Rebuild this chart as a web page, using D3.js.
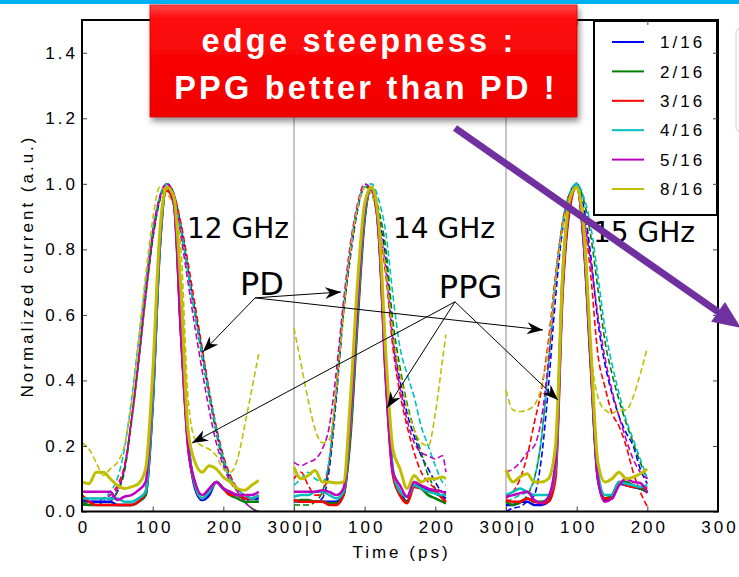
<!DOCTYPE html>
<html>
<head>
<meta charset="utf-8">
<script src="https://cdn.jsdelivr.net/npm/d3@7/dist/d3.min.js"></script>
<style>
  html, body { margin: 0; padding: 0; background: #ffffff; }
  svg { display: block; }
  .tick text { font-family: "Liberation Sans", Arial, sans-serif; font-size: 17px; letter-spacing: 3px; fill: #000; }
</style>
</head>
<body>
<svg id="chart" width="739" height="577"></svg>
<script>
// ---- series and labels ----
const seriesNames  = ["1/16", "2/16", "3/16", "4/16", "5/16", "8/16"];
const seriesColors = ["#0000ff", "#008000", "#ff0000", "#00bfbf", "#bf00bf", "#bfbf00"];
const panelLabels  = ["12 GHz", "14 GHz", "15 GHz"];
const xTickValues  = [0, 100, 200, 300, 400, 500, 600, 700, 800, 900];
const xTickLabels  = ["0", "100", "200", "300|0", "100", "200", "300|0", "100", "200", "300"];
const yTickValues  = [0, 0.2, 0.4, 0.6, 0.8, 1.0, 1.2, 1.4];

// ---- sample times (ps) for each clock rate ----
const time12 = [0,10,20,30,40,50,60,70,80,90,100,110,120,130,140,150,160,170,180,190,200,210,220,230,240,250];
const time14 = [0,10,20,30,40,50,60,70,80,90,100,110,120,130,140,150,160,170,180,190,200,210,215];
const time15 = [0,10,20,30,40,50,60,70,80,90,100,110,120,130,140,150,160,170,180,190,200];

// ---- PD (photodiode) normalized current, one row per series ----
const pd12 = [
  [0.02,0.02,0.02,0.03,0.04,0.06,0.13,0.28,0.46,0.66,0.83,0.95,1.0,0.97,0.87,0.74,0.61,0.49,0.36,0.25,0.16,0.1,0.07,0.04,0.03,0.03],
  [0.02,0.02,0.02,0.02,0.03,0.06,0.12,0.27,0.45,0.65,0.83,0.95,1.0,0.96,0.86,0.73,0.6,0.47,0.35,0.24,0.15,0.1,0.06,0.03,0.01,0.0],
  [0.04,0.04,0.04,0.04,0.05,0.08,0.14,0.28,0.46,0.66,0.84,0.96,1.0,0.97,0.88,0.76,0.63,0.5,0.37,0.26,0.17,0.11,0.07,0.05,0.04,0.04],
  [0.03,0.03,0.03,0.04,0.06,0.1,0.19,0.34,0.52,0.7,0.86,0.96,1.0,0.96,0.86,0.73,0.6,0.48,0.36,0.25,0.16,0.1,0.07,0.05,0.04,0.03],
  [0.03,0.03,0.03,0.04,0.05,0.07,0.13,0.28,0.47,0.67,0.85,0.96,1.0,0.96,0.84,0.7,0.56,0.43,0.31,0.21,0.14,0.09,0.06,0.03,0.01,0.0],
  [0.21,0.19,0.15,0.11,0.13,0.15,0.2,0.33,0.52,0.72,0.89,0.99,0.97,0.93,0.8,0.35,0.22,0.2,0.19,0.17,0.13,0.12,0.16,0.26,0.37,0.48]
];
const pd14 = [
  [0.03,0.03,0.03,0.03,0.04,0.13,0.35,0.6,0.78,0.92,0.99,0.99,0.9,0.77,0.54,0.4,0.3,0.23,0.17,0.13,0.09,0.06,0.06],
  [0.02,0.02,0.02,0.03,0.06,0.15,0.37,0.61,0.8,0.93,0.99,0.99,0.92,0.8,0.58,0.44,0.33,0.25,0.18,0.11,0.07,0.04,0.03],
  [0.1,0.12,0.08,0.05,0.05,0.16,0.38,0.62,0.8,0.93,0.99,0.97,0.87,0.72,0.5,0.36,0.26,0.18,0.12,0.09,0.07,0.06,0.05],
  [0.08,0.1,0.12,0.1,0.09,0.16,0.38,0.62,0.8,0.93,0.99,1.0,0.95,0.85,0.66,0.5,0.42,0.35,0.26,0.2,0.14,0.09,0.08],
  [0.15,0.14,0.15,0.16,0.19,0.26,0.43,0.64,0.82,0.94,1.0,0.98,0.88,0.74,0.52,0.38,0.28,0.21,0.18,0.17,0.16,0.17,0.12],
  [0.56,0.45,0.34,0.25,0.21,0.22,0.38,0.6,0.8,0.93,0.99,0.97,0.88,0.74,0.54,0.42,0.32,0.25,0.21,0.2,0.3,0.46,0.54]
];
const pd15 = [
  [0.0,0.01,0.015,0.03,0.05,0.16,0.38,0.65,0.86,0.97,1.0,0.93,0.78,0.58,0.45,0.36,0.29,0.24,0.2,0.13,0.085],
  [0.02,0.02,0.025,0.05,0.1,0.22,0.45,0.7,0.88,0.97,1.0,0.95,0.84,0.68,0.52,0.42,0.34,0.27,0.21,0.15,0.1],
  [0.04,0.06,0.1,0.17,0.27,0.37,0.52,0.72,0.88,0.97,0.99,0.9,0.72,0.48,0.38,0.3,0.26,0.2,0.12,0.06,0.015],
  [0.03,0.04,0.05,0.06,0.1,0.22,0.45,0.7,0.88,0.97,1.0,0.96,0.87,0.72,0.56,0.45,0.36,0.28,0.22,0.16,0.1],
  [0.12,0.13,0.15,0.18,0.2,0.28,0.46,0.7,0.87,0.96,0.99,0.9,0.76,0.6,0.47,0.37,0.29,0.22,0.16,0.12,0.1],
  [0.37,0.31,0.305,0.31,0.325,0.38,0.5,0.7,0.87,0.96,0.99,0.9,0.5,0.35,0.31,0.3,0.31,0.31,0.35,0.42,0.5]
];

// ---- PPG (pulse pattern generator) normalized current, one row per series ----
const ppg12 = [
  [0.04,0.03,0.03,0.03,0.03,0.02,0.02,0.02,0.03,0.05,0.33,0.8,0.99,0.95,0.55,0.22,0.07,0.035,0.05,0.09,0.07,0.055,0.05,0.04,0.04,0.04],
  [0.03,0.02,0.02,0.02,0.02,0.02,0.02,0.02,0.03,0.05,0.32,0.8,0.99,0.95,0.57,0.21,0.08,0.04,0.06,0.09,0.07,0.05,0.04,0.03,0.03,0.03],
  [0.05,0.03,0.02,0.02,0.02,0.02,0.02,0.02,0.03,0.06,0.36,0.82,0.98,0.94,0.54,0.2,0.08,0.04,0.06,0.09,0.07,0.05,0.05,0.04,0.04,0.05],
  [0.04,0.04,0.04,0.04,0.04,0.04,0.03,0.03,0.04,0.06,0.34,0.81,0.99,0.95,0.58,0.22,0.08,0.04,0.06,0.09,0.07,0.06,0.05,0.05,0.04,0.05],
  [0.06,0.06,0.06,0.06,0.06,0.035,0.045,0.05,0.065,0.09,0.38,0.83,0.99,0.94,0.55,0.2,0.09,0.05,0.07,0.09,0.07,0.06,0.05,0.05,0.05,0.06],
  [0.09,0.085,0.12,0.12,0.1,0.08,0.07,0.075,0.085,0.13,0.42,0.85,0.99,0.96,0.68,0.25,0.15,0.12,0.14,0.13,0.105,0.09,0.07,0.065,0.08,0.095]
];
const ppg14 = [
  [0.035,0.03,0.03,0.03,0.03,0.03,0.03,0.05,0.25,0.6,0.9,0.99,0.85,0.42,0.12,0.06,0.03,0.09,0.075,0.065,0.055,0.045,0.04],
  [0.03,0.035,0.035,0.03,0.03,0.025,0.025,0.05,0.23,0.58,0.89,0.99,0.86,0.44,0.12,0.05,0.03,0.08,0.07,0.05,0.04,0.03,0.025],
  [0.035,0.03,0.03,0.03,0.03,0.02,0.02,0.05,0.26,0.62,0.91,0.99,0.84,0.4,0.11,0.05,0.025,0.075,0.07,0.06,0.06,0.04,0.03],
  [0.045,0.05,0.05,0.06,0.06,0.05,0.04,0.06,0.27,0.62,0.91,0.99,0.86,0.42,0.13,0.06,0.045,0.08,0.07,0.06,0.055,0.05,0.05],
  [0.06,0.06,0.06,0.06,0.065,0.06,0.05,0.07,0.29,0.64,0.92,0.99,0.85,0.4,0.12,0.08,0.045,0.09,0.08,0.07,0.065,0.06,0.055],
  [0.136,0.1,0.11,0.125,0.09,0.09,0.087,0.09,0.35,0.7,0.94,0.99,0.88,0.48,0.19,0.13,0.07,0.11,0.09,0.1,0.1,0.105,0.1]
];
const ppg15 = [
  [0.02,0.02,0.03,0.03,0.02,0.02,0.03,0.12,0.68,0.93,1.0,0.83,0.46,0.1,0.035,0.04,0.085,0.08,0.075,0.07,0.06],
  [0.03,0.02,0.03,0.04,0.03,0.03,0.04,0.14,0.7,0.94,0.99,0.82,0.44,0.1,0.04,0.05,0.09,0.09,0.08,0.07,0.06],
  [0.035,0.03,0.03,0.04,0.03,0.025,0.03,0.1,0.66,0.92,0.99,0.84,0.47,0.11,0.04,0.04,0.09,0.08,0.075,0.075,0.07],
  [0.05,0.06,0.07,0.06,0.05,0.05,0.05,0.13,0.7,0.94,1.0,0.85,0.48,0.12,0.05,0.05,0.09,0.085,0.08,0.075,0.08],
  [0.045,0.05,0.056,0.06,0.035,0.026,0.045,0.15,0.72,0.94,0.99,0.82,0.45,0.1,0.03,0.04,0.08,0.1,0.09,0.087,0.056],
  [0.127,0.09,0.106,0.115,0.09,0.09,0.1,0.2,0.72,0.95,0.99,0.86,0.5,0.15,0.09,0.1,0.12,0.1,0.105,0.115,0.13]
];

// ---- layout ----
const W = 739, H = 577;
const plotLeft = 82, plotRight = 718, plotTop = 20, plotBottom = 511.5;
const panelSpan = 300;                     // each clock-rate panel spans 0..300 ps
const panels = [
  { time: time12, pd: pd12, ppg: ppg12 },
  { time: time14, pd: pd14, ppg: ppg14 },
  { time: time15, pd: pd15, ppg: ppg15 }
];

const svg = d3.select("#chart");
const defs = svg.append("defs");

const x = d3.scaleLinear().domain([0, panelSpan * 3]).range([plotLeft, plotRight]);
const y = d3.scaleLinear().domain([0, 1.5]).range([plotBottom, plotTop]);

// slide header bar
svg.append("rect").attr("x", 0).attr("y", 0).attr("width", W).attr("height", 4).attr("fill", "#00b0f0");

// neighbouring slide box peeking in on the right
svg.append("rect").attr("x", 736).attr("y", 28).attr("width", 30).attr("height", 104)
  .attr("rx", 5).attr("fill", "#fcfcfc").attr("stroke", "#dcdcdc").attr("stroke-width", 1.2);

// clip for the traces
defs.append("clipPath").attr("id", "plotClip")
  .append("rect").attr("x", plotLeft).attr("y", plotTop)
  .attr("width", plotRight - plotLeft).attr("height", plotBottom - plotTop);

const plot = svg.append("g").attr("clip-path", "url(#plotClip)");

// panel separators
[1, 2].forEach(k => {
  plot.append("line")
    .attr("x1", x(k * panelSpan)).attr("x2", x(k * panelSpan))
    .attr("y1", plotTop).attr("y2", plotBottom)
    .attr("stroke", "#8c8c8c").attr("stroke-width", 1);
});

// traces: PD dashed underneath, PPG solid on top
function traceLine(panelIndex, time) {
  const offset = panelIndex * panelSpan;
  return d3.line()
    .x((d, i) => x(offset + time[i]))
    .y(d => y(d))
    .curve(d3.curveMonotoneX);
}

panels.forEach((p, pi) => {
  const line = traceLine(pi, p.time);
  p.pd.forEach((vals, si) => {
    plot.append("path").datum(vals)
      .attr("d", line)
      .attr("fill", "none")
      .attr("stroke", seriesColors[si])
      .attr("stroke-width", 1.6)
      .attr("stroke-dasharray", "6,3");
  });
});
panels.forEach((p, pi) => {
  const line = traceLine(pi, p.time);
  p.ppg.forEach((vals, si) => {
    plot.append("path").datum(vals)
      .attr("d", line)
      .attr("fill", "none")
      .attr("stroke", seriesColors[si])
      .attr("stroke-width", si === 5 ? 3 : 2.5)
      .attr("stroke-linejoin", "round");
  });
});

// legend
const legend = svg.append("g");
legend.append("rect").attr("x", 594).attr("y", 21).attr("width", 123).attr("height", 194)
  .attr("fill", "#ffffff").attr("stroke", "#000").attr("stroke-width", 2);
seriesNames.forEach((name, i) => {
  const ly = 42 + i * 29.4;
  legend.append("line").attr("x1", 612).attr("x2", 644).attr("y1", ly).attr("y2", ly)
    .attr("stroke", seriesColors[i]).attr("stroke-width", 2);
  legend.append("text").attr("x", 660).attr("y", ly).attr("dy", "0.36em")
    .attr("font-family", "'Liberation Sans', Arial, sans-serif").attr("font-size", 17)
    .attr("letter-spacing", 3).attr("fill", "#000").text(name);
});

// axes
const tickColor = "#444";
const xAxis = svg.append("g").attr("transform", `translate(0,${plotBottom})`)
  .call(d3.axisBottom(x).tickValues(xTickValues).tickFormat((d, i) => xTickLabels[i])
    .tickSizeInner(-5).tickSizeOuter(0).tickPadding(9));
xAxis.selectAll(".tick text").attr("dx", "1.5px");
svg.append("g").attr("transform", `translate(0,${plotTop})`)
  .call(d3.axisTop(x).tickValues(xTickValues).tickFormat("").tickSizeInner(-5).tickSizeOuter(0));
svg.append("g").attr("transform", `translate(${plotLeft},0)`)
  .call(d3.axisLeft(y).tickValues(yTickValues).tickFormat(d3.format(".1f"))
    .tickSizeInner(-5).tickSizeOuter(0).tickPadding(4));
svg.append("g").attr("transform", `translate(${plotRight},0)`)
  .call(d3.axisRight(y).tickValues(yTickValues).tickFormat("").tickSizeInner(-5).tickSizeOuter(0));
svg.selectAll(".domain").remove();
svg.selectAll(".tick line").attr("stroke", tickColor);

// plot frame
svg.append("rect").attr("x", plotLeft).attr("y", plotTop)
  .attr("width", plotRight - plotLeft).attr("height", plotBottom - plotTop)
  .attr("fill", "none").attr("stroke", "#000").attr("stroke-width", 2);

// axis titles
svg.append("text").attr("x", 401.5).attr("y", 558).attr("text-anchor", "middle")
  .attr("font-family", "'Liberation Sans', Arial, sans-serif").attr("font-size", 17)
  .attr("letter-spacing", 3).text("Time (ps)");
svg.append("text").attr("transform", "translate(33,266) rotate(-90)").attr("text-anchor", "middle")
  .attr("font-family", "'Liberation Sans', Arial, sans-serif").attr("font-size", 17)
  .attr("letter-spacing", 3).text("Normalized current (a.u.)");

// clock-rate labels
const rateLabelPos = [[148.6, 0.835], [440, 0.835], [723, 0.823]];
panelLabels.forEach((lbl, i) => {
  svg.append("text").attr("x", x(rateLabelPos[i][0])).attr("y", y(rateLabelPos[i][1]))
    .attr("font-family", "'DejaVu Sans', sans-serif").attr("font-size", 28).attr("fill", "#000").text(lbl);
});

// PD / PPG callouts with arrows
defs.append("marker").attr("id", "head").attr("viewBox", "-16 -7 17 14")
  .attr("refX", 0).attr("refY", 0).attr("markerWidth", 17).attr("markerHeight", 14)
  .attr("markerUnits", "userSpaceOnUse").attr("orient", "auto")
  .append("path").attr("d", "M0,0 L-16,-6 L-11,0 L-16,6 Z").attr("fill", "#000");

const callouts = [
  { text: "PD",  at: [223.6, 0.661], from: [245, 0.652],
    to: [[171, 0.487], [366.5, 0.67], [652.3, 0.554]] },
  { text: "PPG", at: [505, 0.652], from: [527.8, 0.64],
    to: [[155.7, 0.209], [431.6, 0.316], [673.6, 0.34]] }
];
callouts.forEach(c => {
  c.to.forEach(t => {
    svg.append("line")
      .attr("x1", x(c.from[0])).attr("y1", y(c.from[1]))
      .attr("x2", x(t[0])).attr("y2", y(t[1]))
      .attr("stroke", "#000").attr("stroke-width", 1)
      .attr("marker-end", "url(#head)");
  });
  svg.append("text").attr("x", x(c.at[0])).attr("y", y(c.at[1]))
    .attr("font-family", "'DejaVu Sans', sans-serif").attr("font-size", 32).attr("fill", "#000").text(c.text);
});

// purple pointer arrow
(function () {
  const x0 = 455, y0 = 128, x1 = 741, y1 = 328;
  const ang = Math.atan2(y1 - y0, x1 - x0);
  const headLen = 28, headHalf = 12;
  const bx = x1 - headLen * Math.cos(ang), by = y1 - headLen * Math.sin(ang);
  svg.append("line").attr("x1", x0).attr("y1", y0).attr("x2", bx).attr("y2", by)
    .attr("stroke", "#7030a0").attr("stroke-width", 7);
  const px = -Math.sin(ang), py = Math.cos(ang);
  svg.append("path")
    .attr("d", `M${x1},${y1} L${bx + px * headHalf},${by + py * headHalf} L${bx - px * headHalf},${by - py * headHalf} Z`)
    .attr("fill", "#7030a0");
})();

// red banner
const grad = defs.append("linearGradient").attr("id", "bannerFill").attr("x1", 0).attr("y1", 0).attr("x2", 0).attr("y2", 1);
grad.append("stop").attr("offset", "0%").attr("stop-color", "#ff4a4a");
grad.append("stop").attr("offset", "12%").attr("stop-color", "#ff0a0a");
grad.append("stop").attr("offset", "100%").attr("stop-color", "#f00000");
const shadow = defs.append("filter").attr("id", "bannerShadow").attr("x", "-10%").attr("y", "-10%").attr("width", "130%").attr("height", "140%");
shadow.append("feDropShadow").attr("dx", 2).attr("dy", 4).attr("stdDeviation", 3)
  .attr("flood-color", "#000").attr("flood-opacity", 0.45);
svg.append("rect").attr("x", 150).attr("y", 5).attr("width", 427).attr("height", 112)
  .attr("fill", "url(#bannerFill)").attr("stroke", "#d40000").attr("stroke-width", 0.8)
  .attr("filter", "url(#bannerShadow)");
[["edge steepness :", 359, 52], ["PPG better than PD !", 366, 99]].forEach(([s, tx, ty]) => {
  svg.append("text").attr("x", tx).attr("y", ty).attr("text-anchor", "middle")
    .attr("font-family", "'Liberation Sans', Arial, sans-serif").attr("font-weight", "bold")
    .attr("font-size", 32.5).attr("letter-spacing", 3.2).attr("fill", "#ffffff").text(s);
});
</script>
</body>
</html>
